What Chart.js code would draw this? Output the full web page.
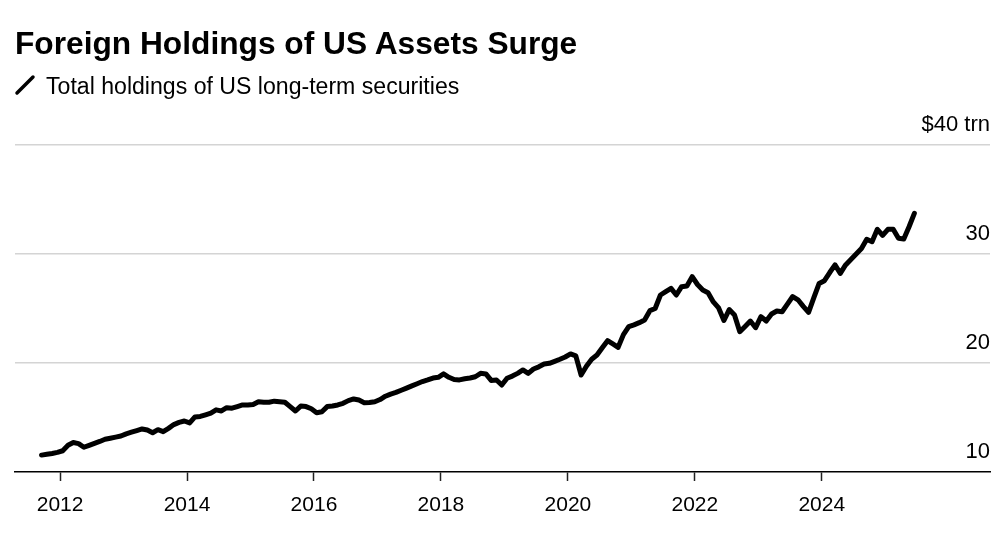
<!DOCTYPE html>
<html>
<head>
<meta charset="utf-8">
<script src="https://cdn.jsdelivr.net/npm/chart.js@4.4.0/dist/chart.umd.min.js"></script>
<style>
  html, body { margin: 0; padding: 0; background: #fff; }
  #wrap { position: relative; width: 1000px; height: 545px; overflow: hidden; }
  #chart { position: absolute; left: 0; top: 0; }
  .title { position: absolute; left: 15px; top: 25px; margin: 0; line-height: 1;
           font: bold 31.7px "Liberation Sans", Arial, sans-serif; color: #000; white-space: nowrap; }
  .subtitle { position: absolute; left: 46px; top: 73px; line-height: 1;
              font: 23.1px "Liberation Sans", Arial, sans-serif; color: #000; white-space: nowrap; }
  .key { position: absolute; left: 14px; top: 74px; }
</style>
</head>
<body>
<div id="wrap">
  <canvas id="chart" width="1000" height="545"></canvas>
  <h1 class="title">Foreign Holdings of US Assets Surge</h1>
  <svg class="key" width="24" height="22"><line x1="3" y1="19" x2="19" y2="3" stroke="#000" stroke-width="3.5" stroke-linecap="round"/></svg>
  <div class="subtitle">Total holdings of US long-term securities</div>
</div>
<script>
// monthly series, first value is Sep 2011 ($ trillions)
const startYear = 2011;
const startMonth = 9;
const holdings = [
  11.55, 11.62, 11.70, 11.80,
  11.95, 12.45, 12.70, 12.60, 12.27, 12.45, 12.63, 12.80, 13.00, 13.10, 13.20, 13.30, // 2012
  13.50, 13.65, 13.80, 13.95, 13.85, 13.60, 13.88, 13.70, 14.00, 14.35, 14.55, 14.68, // 2013
  14.50, 15.05, 15.10, 15.25, 15.40, 15.70, 15.60, 15.90, 15.85, 16.00, 16.15, 16.15, // 2014
  16.20, 16.45, 16.40, 16.40, 16.50, 16.45, 16.40, 16.00, 15.60, 16.05, 16.00, 15.80, // 2015
  15.44, 15.53, 16.00, 16.05, 16.15, 16.30, 16.55, 16.70, 16.60, 16.36, 16.38, 16.45, // 2016
  16.65, 16.95, 17.15, 17.30, 17.50, 17.70, 17.90, 18.10, 18.30, 18.45, 18.62, 18.69, // 2017
  19.00, 18.69, 18.48, 18.45, 18.55, 18.62, 18.74, 19.05, 19.00, 18.40, 18.44, 17.98, // 2018
  18.60, 18.80, 19.05, 19.36, 19.05, 19.45, 19.65, 19.90, 19.97, 20.15, 20.34, 20.55, // 2019
  20.83, 20.65, 18.90, 19.70, 20.34, 20.73, 21.40, 22.05, 21.75, 21.44, 22.60, 23.33, // 2020
  23.50, 23.70, 23.95, 24.80, 25.00, 26.24, 26.55, 26.85, 26.24, 27.00, 27.06, 27.92, // 2021
  27.20, 26.70, 26.45, 25.60, 25.05, 23.90, 24.90, 24.40, 22.87, 23.35, 23.85, 23.24, // 2022
  24.25, 23.85, 24.50, 24.77, 24.70, 25.40, 26.10, 25.80, 25.20, 24.65, 26.00, 27.30, // 2023
  27.55, 28.30, 29.00, 28.23, 29.00, 29.50, 30.00, 30.50, 31.35, 31.13, 32.27, 31.70, // 2024
  32.27, 32.27, 31.44, 31.38, 32.50, 33.73                                            // 2025
];
const xTickYears = [2012, 2014, 2016, 2018, 2020, 2022, 2024];
const yTicks = [10, 20, 30, 40];
const yTickLabels = ["10", "20", "30", "$40 trn"];

const FONT = '"Liberation Sans", Arial, sans-serif';

// each month sits at its middle on a decimal-year axis
const points = holdings.map((v, i) => ({
  x: startYear + (startMonth - 1 + i + 0.5) / 12,
  y: v,
}));

// y labels sit just above their gridlines, right aligned
const yLabelPlugin = {
  id: "yLabels",
  afterDraw(chart) {
    const { ctx, chartArea, scales } = chart;
    ctx.save();
    ctx.font = "22px " + FONT;
    ctx.fillStyle = "#000";
    ctx.textAlign = "right";
    ctx.textBaseline = "alphabetic";
    yTicks.forEach((v, i) => {
      ctx.fillText(yTickLabels[i], chartArea.right, scales.y.getPixelForValue(v) - 14);
    });
    ctx.restore();
  },
};

new Chart(document.getElementById("chart").getContext("2d"), {
  type: "line",
  data: {
    datasets: [
      {
        label: "Total holdings of US long-term securities",
        data: points,
        borderColor: "#000",
        borderWidth: 5,
        borderJoinStyle: "round",
        borderCapStyle: "round",
        pointRadius: 0,
        tension: 0,
        fill: false,
      },
    ],
  },
  options: {
    responsive: false,
    animation: false,
    layout: { padding: { left: 15, right: 10, top: 145, bottom: 0 } },
    plugins: {
      legend: { display: false },
      tooltip: { enabled: false },
    },
    scales: {
      x: {
        type: "linear",
        min: 2011.29,
        max: 2026.65,
        afterBuildTicks: (s) => { s.ticks = xTickYears.map((v) => ({ value: v })); },
        afterFit: (s) => { s.height = 73; },
        grid: { drawOnChartArea: false, drawTicks: true, tickLength: 9, tickWidth: 1.5, tickColor: "#222" },
        border: { display: true, color: "#000", width: 1.5 },
        ticks: { color: "#000", font: { family: FONT, size: 21 }, padding: 12, maxRotation: 0, callback: (v) => String(v) },
      },
      y: {
        min: 10,
        max: 40,
        afterBuildTicks: (s) => { s.ticks = yTicks.map((v) => ({ value: v })); },
        afterFit: (s) => { s.width = 0; },
        grid: {
          color: (ctx) => (ctx.tick && ctx.tick.value === 10 ? "rgba(0,0,0,0)" : "#d4d4d4"),
          lineWidth: 1.5,
          drawTicks: false,
        },
        border: { display: false },
        ticks: { display: false },
      },
    },
  },
  plugins: [yLabelPlugin],
});
</script>
</body>
</html>
